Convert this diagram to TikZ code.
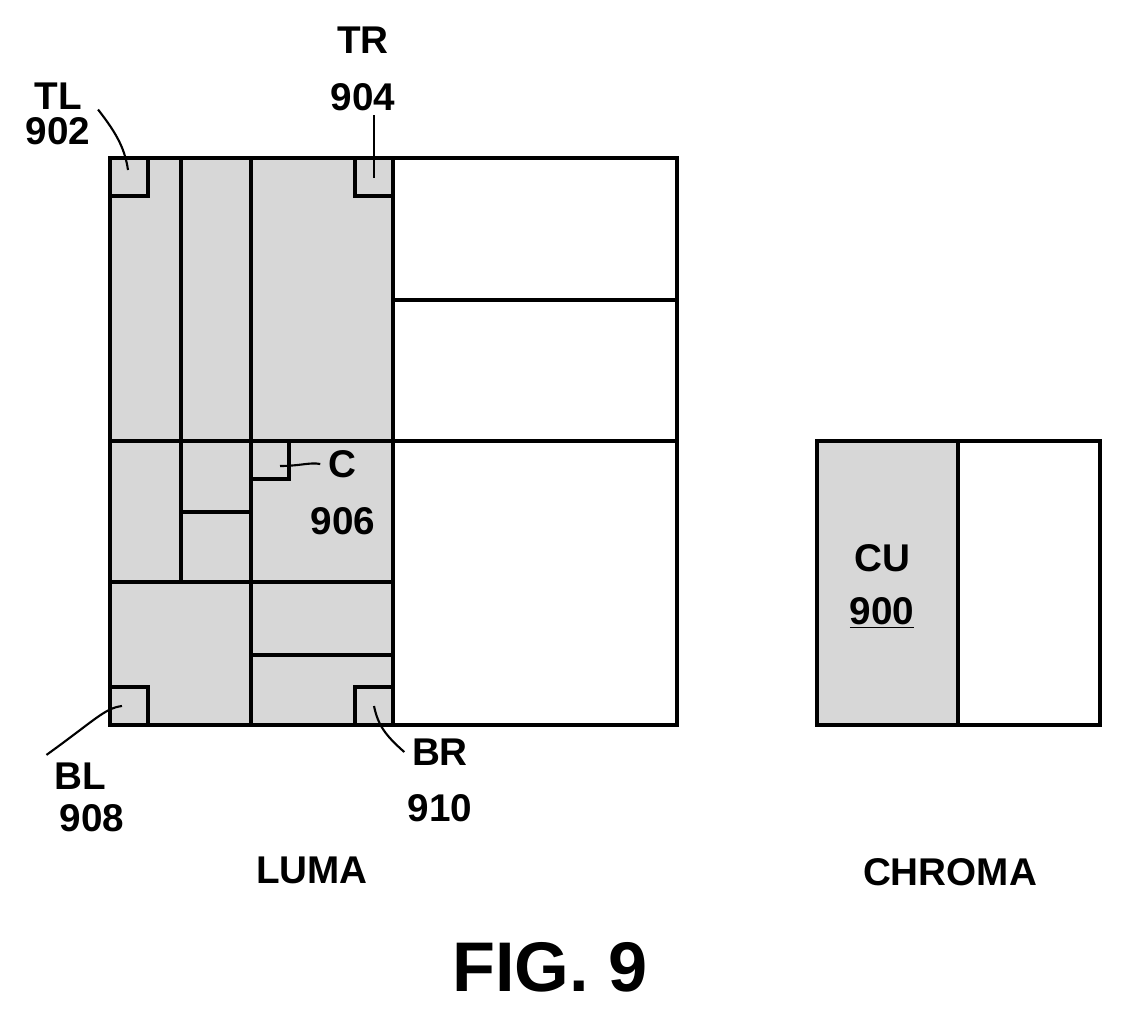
\documentclass[tikz,border=0pt]{standalone}
\usepackage{fontspec}
\setmainfont{Liberation Sans}
\usepackage{tikz}
\definecolor{dotgray}{RGB}{215,215,215}
\begin{document}
\begin{tikzpicture}[x=0.02cm,y=-0.02cm,line width=2.2pt,
  lbl/.style={font=\fontsize{22}{24}\selectfont\bfseries},
  lead/.style={line width=1.2pt}]
\useasboundingbox (0,0) rectangle (1122,1018);
% luma block
\fill[dotgray] (110,158) rectangle (393,725);
\draw (110,158) rectangle (677,725);
\draw (181,158) -- (181,582);
\draw (251,158) -- (251,725);
\draw (393,158) -- (393,725);
\draw (110,441) -- (677,441);
\draw (110,582) -- (393,582);
\draw (393,300) -- (677,300);
\draw (181,512) -- (251,512);
\draw (251,655) -- (393,655);
% small corner blocks
\draw (110,158) rectangle (148,196);
\draw (355,158) rectangle (393,196);
\draw (251,441) rectangle (289,479);
\draw (110,687) rectangle (148,725);
\draw (355,687) rectangle (393,725);
% labels
\node[lbl] (tl) at (58,96) {TL};
\node[lbl] (n902) at (58,131) {902};
\node[lbl] (tr) at (363,40) {TR};
\node[lbl] (n904) at (363,97) {904};
\node[lbl] (c) at (342,464) {C};
\node[lbl] (n906) at (343,521) {906};
\node[lbl] (bl) at (80,776) {BL};
\node[lbl] (n908) at (92,818) {908};
\node[lbl] (br) at (440,752) {BR};
\node[lbl] (n910) at (440,808) {910};
% leaders
\draw[lead] (n902.north east) .. controls (118,135) and (125,150) .. (128,170);
\draw[lead] (374,115) -- (374,178);
\draw[lead] (c.west) .. controls (310,462) and (300,466) .. (280,466);
\draw[lead] (n908.north west) ++(10,-40) coordinate (blend);
\draw[lead] (122,706) .. controls (105,708) and (95,720) .. (bl.north west);
\draw[lead] (374,706) .. controls (378,725) and (385,735) .. (br.west);
% chroma block
\fill[dotgray] (817,441) rectangle (958,725);
\draw (817,441) rectangle (1100,725);
\draw (958,441) -- (958,725);
\node[lbl] (cu) at (882,558) {CU};
\node[lbl] (n900) at (882,613) {\underline{900}};
% captions
\node[lbl] (luma) at (312,870) {LUMA};
\node[lbl] (chroma) at (950,872) {CHROMA};
\node[font=\fontsize{40}{44}\selectfont\bfseries] (fig) at (550,967) {FIG. 9};
\end{tikzpicture}
\end{document}
